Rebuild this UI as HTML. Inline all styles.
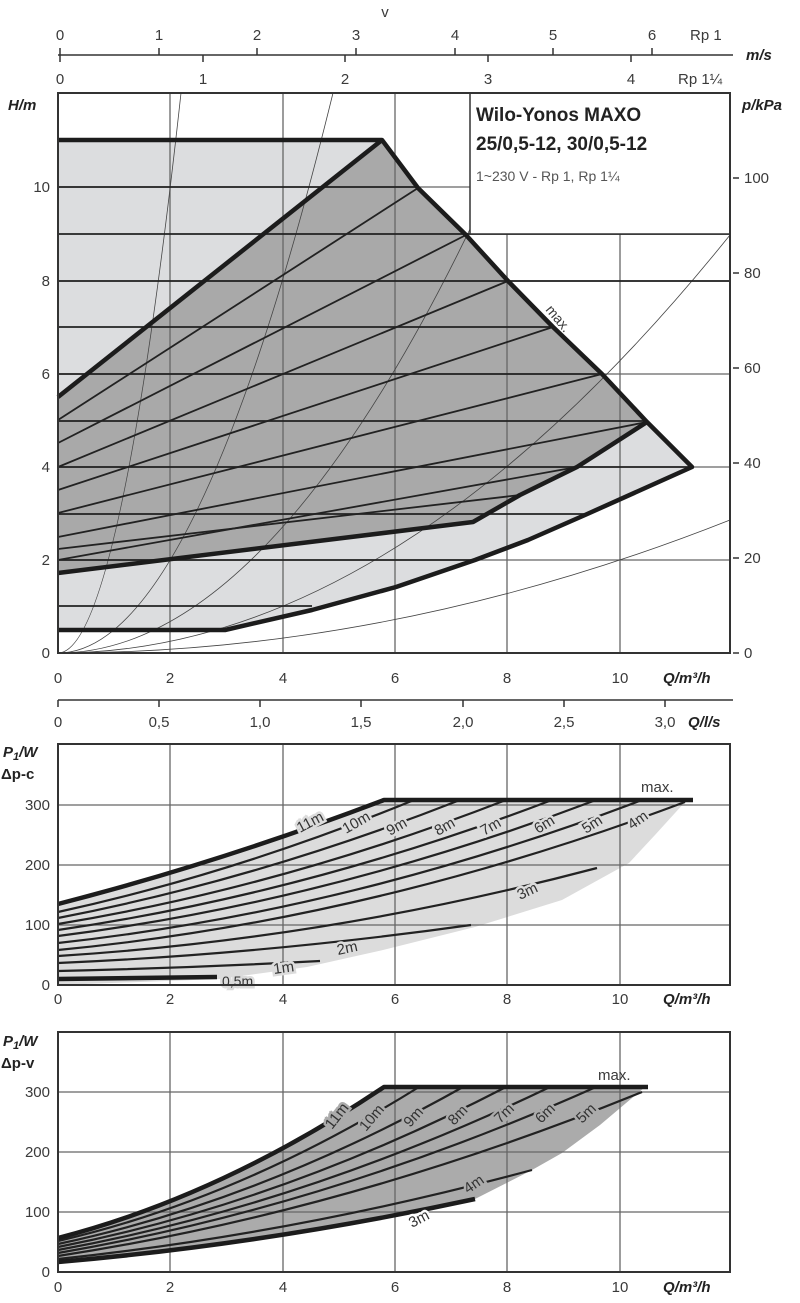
<!DOCTYPE html>
<html><head><meta charset="utf-8"><style>
html,body{margin:0;padding:0;background:#fff;}
svg{display:block;font-family:"Liberation Sans",sans-serif;}
.t{font-size:15px;fill:#3a3a3a;}
.b{font-size:15px;font-weight:bold;font-style:italic;fill:#222;}
.g{stroke:#666;stroke-width:1.3;fill:none;}
.k{stroke:#222;stroke-width:1.8;fill:none;}
.K{stroke:#1c1c1c;stroke-width:4.5;fill:none;stroke-linejoin:round;}
.s{stroke:#444;stroke-width:0.8;fill:none;}
.lc{font-size:15px;fill:#333;stroke:#dcdcdc;stroke-width:5px;paint-order:stroke;}
.lv{font-size:15px;fill:#333;stroke:#ababab;stroke-width:5px;paint-order:stroke;}
</style></head><body>
<svg width="800" height="1303" viewBox="0 0 800 1303" xmlns="http://www.w3.org/2000/svg">
<!-- velocity axes -->
<text x="385" y="17" class="t" text-anchor="middle">v</text>
<line x1="58" y1="55" x2="733" y2="55" stroke="#333" stroke-width="1.5"/>
<g stroke="#333" stroke-width="1.5">
<line x1="60" y1="48" x2="60" y2="62"/><line x1="159" y1="48" x2="159" y2="55"/><line x1="257" y1="48" x2="257" y2="55"/><line x1="356" y1="48" x2="356" y2="55"/><line x1="455" y1="48" x2="455" y2="55"/><line x1="553" y1="48" x2="553" y2="55"/><line x1="652" y1="48" x2="652" y2="55"/>
<line x1="203" y1="55" x2="203" y2="62"/><line x1="345" y1="55" x2="345" y2="62"/><line x1="488" y1="55" x2="488" y2="62"/><line x1="631" y1="55" x2="631" y2="62"/>
</g>
<g class="t" text-anchor="middle">
<text x="60" y="40">0</text><text x="159" y="40">1</text><text x="257" y="40">2</text><text x="356" y="40">3</text><text x="455" y="40">4</text><text x="553" y="40">5</text><text x="652" y="40">6</text>
<text x="60" y="84">0</text><text x="203" y="84">1</text><text x="345" y="84">2</text><text x="488" y="84">3</text><text x="631" y="84">4</text>
</g>
<text x="690" y="40" class="t">Rp 1</text>
<text x="678" y="84" class="t">Rp 1¼</text>
<text x="746" y="60" class="b">m/s</text>

<!-- TOP CHART -->
<path d="M58,140 L382,140 L418,188 L466,235 L508,281 L553,327 L602,374 L647,422 L692,467 L585,515 L528,540 L475,560 L396,587 L312,610 L225,630 L58,630 Z" fill="#dcdddf"/>
<path d="M58,397 L382,140 L418,188 L466,235 L508,281 L553,327 L602,374 L647,422 L577,467 L520,495 L473,522 L58,573 Z" fill="#a9a9a9"/>
<!-- grid -->
<g class="g">
<line x1="170" y1="93" x2="170" y2="653"/><line x1="283" y1="93" x2="283" y2="653"/><line x1="395" y1="93" x2="395" y2="653"/><line x1="507" y1="93" x2="507" y2="653"/><line x1="620" y1="93" x2="620" y2="653"/>
<line x1="58" y1="560" x2="730" y2="560"/><line x1="58" y1="467" x2="730" y2="467"/><line x1="58" y1="374" x2="730" y2="374"/><line x1="58" y1="281" x2="730" y2="281"/><line x1="58" y1="187" x2="730" y2="187"/>
</g>
<!-- system curves -->
<g class="s">
<path d="M58,653 Q119.6,653 181,93"/>
<path d="M58,653 Q195.7,653 333,93"/>
<path d="M58,653 Q294.8,653 531.6,93"/>
<path d="M58,653 Q394,653 730,235"/>
<path d="M58,653 Q394,653 730,520"/>
</g>
<!-- constant pressure lines -->
<g class="k">
<line x1="58" y1="187" x2="418" y2="187"/><line x1="58" y1="234" x2="730" y2="234"/><line x1="58" y1="281" x2="730" y2="281"/><line x1="58" y1="327" x2="553" y2="327"/><line x1="58" y1="374" x2="602" y2="374"/><line x1="58" y1="421" x2="647" y2="421"/><line x1="58" y1="467" x2="692" y2="467"/><line x1="58" y1="514" x2="585" y2="514"/><line x1="58" y1="560" x2="475" y2="560"/><line x1="58" y1="606" x2="312" y2="606"/>
<!-- dp-v lines -->
<line x1="58" y1="420" x2="418" y2="188"/><line x1="58" y1="443" x2="466" y2="235"/><line x1="58" y1="467" x2="508" y2="281"/><line x1="58" y1="490" x2="553" y2="327"/><line x1="58" y1="513" x2="602" y2="374"/><line x1="58" y1="537" x2="647" y2="422"/><line x1="58" y1="560" x2="577" y2="467"/><line x1="58" y1="549" x2="520" y2="495"/>
</g>
<g class="K">
<path d="M58,140 L382,140 L418,188 L466,235 L508,281 L553,327 L602,374 L647,422 L692,467 L585,515 L528,540 L475,560 L396,587 L312,610 L225,630 L58,630"/>
<path d="M58,397 L382,140"/>
<path d="M647,422 L577,467 L520,495 L473,522 L58,573"/>
</g>
<text x="545" y="310" class="t" transform="rotate(50 545 310)" style="font-size:14px">max.</text>
<!-- legend -->
<rect x="470" y="93" width="260" height="141" fill="#fff" stroke="#333" stroke-width="1.5"/>
<text x="476" y="121" style="font-size:19px;font-weight:bold;fill:#222">Wilo-Yonos MAXO</text>
<text x="476" y="150" style="font-size:19px;font-weight:bold;fill:#222">25/0,5-12, 30/0,5-12</text>
<text x="476" y="181" style="font-size:14px;fill:#555">1~230 V - Rp 1, Rp 1¼</text>
<rect x="58" y="93" width="672" height="560" fill="none" stroke="#333" stroke-width="2"/>
<!-- top chart axis labels -->
<g class="t" text-anchor="end">
<text x="50" y="658">0</text><text x="50" y="565">2</text><text x="50" y="472">4</text><text x="50" y="379">6</text><text x="50" y="286">8</text><text x="50" y="192">10</text>
</g>
<text x="8" y="110" class="b">H/m</text>
<text x="742" y="110" class="b">p/kPa</text>
<g stroke="#333" stroke-width="1.5">
<line x1="733" y1="653" x2="739" y2="653"/><line x1="733" y1="558" x2="739" y2="558"/><line x1="733" y1="463" x2="739" y2="463"/><line x1="733" y1="368" x2="739" y2="368"/><line x1="733" y1="273" x2="739" y2="273"/><line x1="733" y1="178" x2="739" y2="178"/>
</g>
<g class="t">
<text x="744" y="658">0</text><text x="744" y="563">20</text><text x="744" y="468">40</text><text x="744" y="373">60</text><text x="744" y="278">80</text><text x="744" y="183">100</text>
</g>
<g class="t" text-anchor="middle">
<text x="58" y="683">0</text><text x="170" y="683">2</text><text x="283" y="683">4</text><text x="395" y="683">6</text><text x="507" y="683">8</text><text x="620" y="683">10</text>
</g>
<text x="663" y="683" class="b">Q/m³/h</text>
<!-- l/s axis -->
<line x1="58" y1="700" x2="733" y2="700" stroke="#333" stroke-width="1.5"/>
<g stroke="#333" stroke-width="1.5">
<line x1="58" y1="700" x2="58" y2="707"/><line x1="159" y1="700" x2="159" y2="707"/><line x1="260" y1="700" x2="260" y2="707"/><line x1="361" y1="700" x2="361" y2="707"/><line x1="463" y1="700" x2="463" y2="707"/><line x1="564" y1="700" x2="564" y2="707"/><line x1="665" y1="700" x2="665" y2="707"/>
</g>
<g class="t" text-anchor="middle">
<text x="58" y="727">0</text><text x="159" y="727">0,5</text><text x="260" y="727">1,0</text><text x="361" y="727">1,5</text><text x="463" y="727">2,0</text><text x="564" y="727">2,5</text><text x="665" y="727">3,0</text>
</g>
<text x="688" y="727" class="b">Q/l/s</text>

<!-- MIDDLE CHART -->
<path d="M58,904 Q221,862 384,800 L693,800 L685,802 L655,835 L629,863 L562,900 L475,927 L383,950 L307,967 L220,979 L58,985 Z" fill="#dcdcdc"/>
<g class="g">
<line x1="170" y1="744" x2="170" y2="985"/><line x1="283" y1="744" x2="283" y2="985"/><line x1="395" y1="744" x2="395" y2="985"/><line x1="507" y1="744" x2="507" y2="985"/><line x1="620" y1="744" x2="620" y2="985"/>
<line x1="58" y1="925" x2="730" y2="925"/><line x1="58" y1="865" x2="730" y2="865"/><line x1="58" y1="805" x2="730" y2="805"/>
</g>
<g class="k" style="stroke-width:2.2">
<path d="M58,912 Q236,873 414,800"/>
<path d="M58,918 Q259,879 460,800"/>
<path d="M58,924 Q282,887 506,800"/>
<path d="M58,930 Q305,894 552,800"/>
<path d="M58,936 Q327,902 596,800"/>
<path d="M58,943 Q350,911 642,800"/>
<path d="M58,950 Q371,920 685,802"/>
<path d="M58,956 Q328,939 597,868"/>
<path d="M58,963 Q264,954 471,925"/>
<path d="M58,971 Q189,968 320,961"/>
</g>
<g class="K">
<path d="M58,904 Q221,862 384,800 L693,800"/>
<path d="M58,979 L217,977"/>
</g>
<g>
<text x="300" y="833" class="lc" transform="rotate(-28 300 833)">11m</text>
<text x="346" y="834" class="lc" transform="rotate(-30 346 834)">10m</text>
<text x="390" y="836" class="lc" transform="rotate(-30 390 836)">9m</text>
<text x="438" y="836" class="lc" transform="rotate(-30 438 836)">8m</text>
<text x="484" y="836" class="lc" transform="rotate(-30 484 836)">7m</text>
<text x="538" y="834" class="lc" transform="rotate(-32 538 834)">6m</text>
<text x="586" y="834" class="lc" transform="rotate(-33 586 834)">5m</text>
<text x="632" y="830" class="lc" transform="rotate(-35 632 830)">4m</text>
<text x="520" y="900" class="lc" transform="rotate(-25 520 900)">3m</text>
<text x="338" y="955" class="lc" transform="rotate(-12 338 955)">2m</text>
<text x="274" y="974" class="lc" transform="rotate(-8 274 974)">1m</text>
<text x="222" y="986" class="lc" style="font-size:14px">0,5m</text>
</g>
<text x="641" y="792" class="t">max.</text>
<rect x="58" y="744" width="672" height="241" fill="none" stroke="#333" stroke-width="2"/>
<g class="t" text-anchor="end">
<text x="50" y="990">0</text><text x="50" y="930">100</text><text x="50" y="870">200</text><text x="50" y="810">300</text>
</g>
<text x="3" y="757" class="b">P<tspan style="font-size:11px" dy="3">1</tspan><tspan dy="-3">/W</tspan></text>
<text x="1" y="779" class="b" style="font-style:normal">Δp-c</text>
<g class="t" text-anchor="middle">
<text x="58" y="1004">0</text><text x="170" y="1004">2</text><text x="283" y="1004">4</text><text x="395" y="1004">6</text><text x="507" y="1004">8</text><text x="620" y="1004">10</text>
</g>
<text x="663" y="1004" class="b">Q/m³/h</text>

<!-- BOTTOM CHART -->
<path d="M58,1238 Q221,1196 384,1087 L645,1087 L600,1125 L562,1153 L532,1170 L475,1199 Q266,1244 58,1262 Z" fill="#ababab"/>
<g class="g">
<line x1="170" y1="1032" x2="170" y2="1272"/><line x1="283" y1="1032" x2="283" y2="1272"/><line x1="395" y1="1032" x2="395" y2="1272"/><line x1="507" y1="1032" x2="507" y2="1272"/><line x1="620" y1="1032" x2="620" y2="1272"/>
<line x1="58" y1="1212" x2="730" y2="1212"/><line x1="58" y1="1152" x2="730" y2="1152"/><line x1="58" y1="1092" x2="730" y2="1092"/>
</g>
<g class="k" style="stroke-width:2.2">
<path d="M58,1241 Q239,1199 419,1087"/>
<path d="M58,1244 Q260,1201 463,1087"/>
<path d="M58,1247 Q282,1203 506,1087"/>
<path d="M58,1250 Q304,1205 550,1087"/>
<path d="M58,1253 Q327,1207 596,1087"/>
<path d="M58,1256 Q350,1211 642,1092"/>
<path d="M58,1259 Q295,1234 532,1170"/>
</g>
<g class="K">
<path d="M58,1238 Q221,1196 384,1087 L648,1087"/>
<path d="M58,1262 Q266,1244 475,1199"/>
</g>
<g>
<text x="332" y="1130" class="lv" transform="rotate(-52 332 1130)">11m</text>
<text x="366" y="1132" class="lv" transform="rotate(-50 366 1132)">10m</text>
<text x="410" y="1128" class="lv" transform="rotate(-48 410 1128)">9m</text>
<text x="454" y="1126" class="lv" transform="rotate(-46 454 1126)">8m</text>
<text x="500" y="1124" class="lv" transform="rotate(-44 500 1124)">7m</text>
<text x="541" y="1124" class="lv" transform="rotate(-44 541 1124)">6m</text>
<text x="582" y="1124" class="lv" transform="rotate(-44 582 1124)">5m</text>
<text x="468" y="1194" class="lv" transform="rotate(-35 468 1194)">4m</text>
<text x="412" y="1228" class="lv" transform="rotate(-28 412 1228)" style="stroke:#fff">3m</text>
</g>
<text x="598" y="1080" class="t">max.</text>
<rect x="58" y="1032" width="672" height="240" fill="none" stroke="#333" stroke-width="2"/>
<g class="t" text-anchor="end">
<text x="50" y="1277">0</text><text x="50" y="1217">100</text><text x="50" y="1157">200</text><text x="50" y="1097">300</text>
</g>
<text x="3" y="1046" class="b">P<tspan style="font-size:11px" dy="3">1</tspan><tspan dy="-3">/W</tspan></text>
<text x="1" y="1068" class="b" style="font-style:normal">Δp-v</text>
<g class="t" text-anchor="middle">
<text x="58" y="1292">0</text><text x="170" y="1292">2</text><text x="283" y="1292">4</text><text x="395" y="1292">6</text><text x="507" y="1292">8</text><text x="620" y="1292">10</text>
</g>
<text x="663" y="1292" class="b">Q/m³/h</text>
</svg>
</body></html>
